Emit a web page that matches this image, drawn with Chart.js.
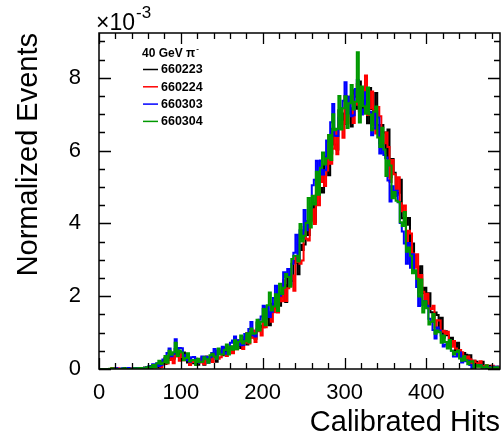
<!DOCTYPE html>
<html><head><meta charset="utf-8">
<script src="https://cdn.jsdelivr.net/npm/chart.js@4/dist/chart.umd.min.js"></script>
<style>html,body{margin:0;padding:0;background:#fff}#wrap{width:503px;height:431px;position:relative}</style>
</head><body><div id="wrap"><canvas id="c" width="503" height="431"></canvas></div>
<script>
// ---- data (values in units of 1e-3, as displayed) ----
const legendTitle = '40 GeV π';
const runLabels = ['660223', '660224', '660303', '660304'];
const runColors = ['#000000', '#ff0000', '#0000ff', '#009900'];
const runDrawOrder = [3, 2, 1, 0];   // green drawn on top
const binWidth = 2.5;        // histogram bin width (Calibrated Hits)
const xAxisMax = 490;
const yAxisMax = 9.23;
const xTickLabels = ['0', '100', '200', '300', '400'];
const yTickLabels = ['0', '2', '4', '6', '8'];
const xAxisTitle = 'Calibrated Hits';
const yAxisTitle = 'Normalized Events';

const run660223 = [
 0,0, 0,0, 0,0, 0,0.02, 0,0, 0,0, 0.03,0, 0,0, 0,0.02, 0.03,0, 0,0.02, 0.04,0.02,
 .05,0, .07,.10, .06,.04, .18,.23, .14,.25,
 .41,.29, .28,.55, .40,.47, .26,.45, .26,.18,
 .28,.25, .16,.28, .12,.20, .27,.12, .34,.24,
 .23,.44, .33,.20, .46,.41, .38,.59, .41,.55,
 .62,.44, .64,.78, .63,.58, .79,.87, .67,.88,
 1.03,.87, .83,1.28, 1.07,1.19, 1.15,1.46, 1.41,1.20,
 1.79,1.70, 1.67,2.07, 1.74,1.97, 2.31,1.84, 2.60,2.29,
 2.42,2.97, 2.92,2.60, 3.41,3.27, 3.42,4.06, 3.68,4.09,
 4.57,4.03, 4.79,5.15, 4.97,4.85, 5.62,5.83, 5.32,5.92,
 6.60,6.17, 6.03,7.11, 6.73,7.02, 6.73,7.48, 7.16,6.66,
 7.66,7.48, 7.15,7.90, 7.05,7.49, 7.65,6.75, 7.72,7.14,
 6.71,7.58, 6.70,6.20, 6.70,6.50, 5.79,6.58, 5.27,5.77,
 5.39,4.79, 4.84,5.20, 4.14,4.03, 3.96,4.15, 3.03,3.45,
 3.11,2.81, 2.25,2.82, 2.08,2.23, 1.68,2.08, 1.56,1.29,
 1.55,1.48, 1.10,1.41, .86,1.04, .93,.63, .86,.66,
 .51,.72, .46,.33, .44,.39, .24,.38, .14,.23,
 .20,.08, .13,.20, .06,.05, .07,.09, 0,.05,
 .06,.02];
const run660224 = [
 0,0, 0,0, 0,0, 0.03,0, 0,0.02, 0,0, 0,0, 0,0.02, 0,0, 0,0.02, 0.03,0.01, 0.02,0.03,
 .05,0, .11,.04, .09,.11, .05,.13, .30,.15,
 .25,.35, .16,.38, .34,.23, .43,.24, .28,.31,
 .11,.19, .25,.13, .23,.18, .31,.13, .23,.30,
 .30,.19, .41,.35, .28,.32, .54,.43, .36,.54,
 .56,.43, .83,.54, .68,.75, .55,.72, .99,.70,
 .86,1.06, .74,1.04, 1.10,.92, 1.46,1.15, 1.46,1.53,
 1.30,1.56, 1.95,1.55, 2.01,1.86, 2.44,1.87, 2.22,2.47,
 2.57,2.15, 3.10,2.94, 2.89,2.98, 3.90,3.58, 3.53,4.07,
 4.39,3.98, 5.22,4.50, 5.14,5.32, 5.03,5.45, 6.43,5.64,
 6.05,6.58, 5.90,6.80, 6.79,6.35, 7.50,6.75, 7.33,7.51,
 6.76,7.26, 7.83,7.08, 7.72,7.43, 8.06,6.98, 7.16,7.62,
 7.12,6.47, 7.20,6.94, 6.07,6.20, 6.50,6.10, 5.14,5.74,
 5.35,4.90, 5.27,4.55, 4.33,4.49, 3.42,3.80, 3.72,3.17,
 2.78,3.15, 2.11,2.58, 2.12,1.89, 2.07,1.67, 1.65,1.74,
 1.13,1.34, 1.33,1.02, 1.05,.96, 1.02,.66, .61,.77,
 .56,.40, .52,.46, .24,.28, .34,.27, .11,.23,
 .16,.07, .21,.07, .08,.10, .01,.05, .09,.02,
 .01,.06];
const run660303 = [
 0,0, 0,0, 0,0, 0,0, 0.02,0, 0,0.02, 0,0, 0.03,0.01, 0,0.02, 0.02,0.01, 0.03,0.02, 0.03,0.05,
 .07,.08, .13,.07, .16,.08, .11,.26, .29,.44,
 .56,.35, .42,.82, .53,.58, .57,.36, .38,.24,
 .20,.32, .33,.26, .17,.19, .34,.29, .33,.17,
 .32,.44, .55,.28, .51,.44, .61,.42, .45,.57,
 .72,.78, .89,.64, .79,.65, .66,.96, .90,1.10,
 1.29,.93, .89,1.10, 1.35,1.44, 1.74,1.38, 1.72,1.43,
 1.57,1.95, 2.29,2.06, 2.01,2.09, 2.66,2.53, 2.75,2.33,
 2.89,3.19, 3.69,3.00, 3.81,3.60, 4.37,3.81, 4.05,4.42,
 5.05,5.20, 5.72,5.09, 5.73,5.34, 5.46,6.28, 6.25,6.78,
 7.28,6.41, 6.40,6.90, 7.16,7.37, 7.88,7.02, 7.48,6.94,
 6.97,7.69, 7.94,7.51, 6.99,7.13, 7.60,7.34, 7.07,6.42,
 6.61,7.07, 6.91,5.92, 6.15,5.88, 5.81,5.18, 4.60,5.02,
 4.75,4.90, 4.58,4.01, 3.78,3.45, 2.89,3.46, 2.78,3.15,
 2.70,2.25, 1.73,2.00, 1.76,1.87, 1.74,1.38, 1.30,1.07,
 .84,1.14, 1.06,.92, .62,.67, .73,.65, .50,.34,
 .34,.46, .45,.18, .26,.21, .23,.11, .02,.10,
 .10,.11, .10,.04, .04,.01, 0,.05, .01,.06,
 .06,0];
const run660304 = [
 0,0, 0,0, 0,0.01, 0.02,0, 0,0, 0,0.01, 0.02,0, 0,0, 0.01,0.02, 0,0.02, 0.03,0.02, 0.02,0.05,
 .06,.03, .11,.04, .15,.23, .14,.17, .36,.17,
 .50,.39, .46,.72, .36,.51, .45,.24, .30,.43,
 .21,.24, .25,.11, .28,.19, .20,.32, .27,.17,
 .38,.42, .34,.28, .56,.40, .40,.52, .67,.40,
 .62,.53, .79,.54, .75,.92, .70,.76, .98,.73,
 1.11,.97, .98,1.35, 1.06,1.30, 1.65,1.20, 1.75,2.10,
 1.61,1.72, 2.05,1.59, 2.34,2.06, 2.23,2.61, 2.53,2.26,
 3.02,3.11, 3.11,2.95, 3.98,3.50, 3.66,4.01, 4.70,3.89,
 4.76,4.52, 5.42,4.79, 5.53,5.95, 5.62,5.79, 6.43,5.74,
 7.00,6.56, 6.60,7.50, 6.58,7.16, 7.49,6.62, 7.30,7.80,
 7.13,7.34, 8.70,6.77, 7.76,7.22, 7.01,7.73, 6.99,6.56,
 7.07,7.21, 6.36,6.10, 6.63,6.03, 5.30,5.73, 5.59,4.69,
 4.86,4.62, 4.59,4.03, 3.93,4.31, 3.22,3.34, 3.11,2.63,
 2.71,2.48, 1.99,2.46, 1.55,1.86, 1.67,1.22, 1.30,1.51,
 .97,1.06, 1.01,.72, .92,.74, .56,.80, .50,.40,
 .47,.51, .29,.23, .35,.24, .13,.20, .21,.03,
 .11,.06, .10,.03, .05,.10, .01,.03, .05,0,
 .05,.02];
const runValues = [run660223, run660224, run660303, run660304];

// ---- build histogram step points (left bin edges + closing right edge) ----
function histPoints(vals) {
  const pts = vals.map((v, i) => ({ x: i * binWidth, y: v }));
  pts.push({ x: vals.length * binWidth, y: vals[vals.length - 1] });
  return pts;
}

const FONT = "'Liberation Sans', Arial, Helvetica, sans-serif";

const rootFrame = {
  id: 'rootFrame',
  afterDraw(chart) {
    const { ctx, chartArea: a, scales: { x, y } } = chart;
    ctx.save();
    ctx.strokeStyle = '#000';
    ctx.lineWidth = 1.5;
    ctx.strokeRect(a.left, a.top, a.right - a.left, a.bottom - a.top);
    ctx.lineWidth = 1.3;
    ctx.beginPath();
    for (let v = 0; v <= xAxisMax; v += 20) {
      const px = Math.round(x.getPixelForValue(v)) + 0.5;
      const L = (v % 100 === 0) ? 11 : 6;
      ctx.moveTo(px, a.bottom); ctx.lineTo(px, a.bottom - L);
      ctx.moveTo(px, a.top); ctx.lineTo(px, a.top + L);
    }
    for (let v = 0; v <= yAxisMax; v += 0.5) {
      const py = Math.round(y.getPixelForValue(v)) + 0.5;
      const L = (Math.abs(v % 2) < 1e-9) ? 12 : 6;
      ctx.moveTo(a.left, py); ctx.lineTo(a.left + L, py);
      ctx.moveTo(a.right, py); ctx.lineTo(a.right - L, py);
    }
    ctx.stroke();

    // axis titles
    ctx.fillStyle = '#000';
    ctx.font = '29px ' + FONT;
    ctx.textAlign = 'right';
    ctx.textBaseline = 'alphabetic';
    ctx.fillText(xAxisTitle, a.right, 431);
    ctx.save();
    ctx.translate(37, a.top);
    ctx.rotate(-Math.PI / 2);
    ctx.textAlign = 'right';
    ctx.fillText(yAxisTitle, 0, 0);
    ctx.restore();

    // exponent
    ctx.textAlign = 'left';
    ctx.font = '23px ' + FONT;
    ctx.fillText('×10', 96, 30);
    const w = ctx.measureText('×10').width;
    ctx.font = '17px ' + FONT;
    ctx.fillText('-3', 97 + w, 18);

    // legend
    ctx.font = 'bold 12px ' + FONT;
    ctx.textBaseline = 'alphabetic';
    ctx.fillText(legendTitle, 142, 57);
    const tw = ctx.measureText(legendTitle).width;
    ctx.font = 'bold 8px ' + FONT;
    ctx.fillText('-', 142 + tw + 1, 51);
    chart.data.datasets.forEach((ds, i) => {
      const ly = 69.5 + i * 17.3;
      ctx.strokeStyle = ds.borderColor;
      ctx.lineWidth = 1.5;
      ctx.beginPath(); ctx.moveTo(143, ly); ctx.lineTo(158, ly); ctx.stroke();
      ctx.fillStyle = '#000';
      ctx.font = 'bold 12.5px ' + FONT;
      ctx.textBaseline = 'middle';
      ctx.fillText(ds.label, 161, ly + 0.5);
    });
    ctx.restore();
  }
};

new Chart(document.getElementById('c'), {
  type: 'line',
  data: {
    datasets: runValues.map((vals, i) => ({
      label: runLabels[i],
      data: histPoints(vals),
      borderColor: runColors[i],
      borderWidth: 2,
      borderJoinStyle: 'miter',
      pointRadius: 0,
      fill: false,
      stepped: 'before',
      tension: 0,
      order: runDrawOrder[i]
    }))
  },
  options: {
    responsive: false,
    animation: false,
    devicePixelRatio: 1,
    layout: { padding: { top: 33, right: 3, left: 0, bottom: 0 } },
    plugins: { legend: { display: false }, tooltip: { enabled: false } },
    scales: {
      x: {
        type: 'linear', min: 0, max: xAxisMax,
        grid: { display: false }, border: { display: false },
        afterFit: s => { s.height = 62; },
        afterBuildTicks: s => { s.ticks = xTickLabels.map(v => ({ value: +v })); },
        ticks: { color: '#000', font: { family: FONT, size: 22 }, padding: 3, maxRotation: 0, autoSkip: false,
                 callback: v => String(v) }
      },
      y: {
        type: 'linear', min: 0, max: yAxisMax,
        grid: { display: false }, border: { display: false },
        afterFit: s => { s.width = 99; },
        afterBuildTicks: s => { s.ticks = yTickLabels.map(v => ({ value: +v })); },
        ticks: { color: '#000', font: { family: FONT, size: 22 }, padding: 10, autoSkip: false,
                 callback: v => String(v) }
      }
    }
  },
  plugins: [rootFrame]
});
</script></body></html>
